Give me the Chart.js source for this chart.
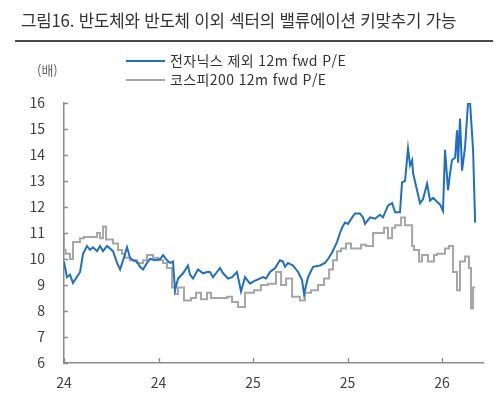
<!DOCTYPE html>
<html lang="ko">
<head>
<meta charset="UTF-8">
<title>그림16</title>
<script src="https://cdn.jsdelivr.net/npm/chart.js"></script>
<style>
  body { margin: 0; background: #fff; font-family: "Noto Sans CJK KR", "Noto Sans", sans-serif; }
  #wrap { position: relative; width: 500px; height: 393px; overflow: hidden; }
  #chart { position: absolute; left: 0; top: 0; }
  .t { position: absolute; white-space: nowrap; color: #333; }
  #title { left: 21px; top: 8px; font-size: 16.8px; letter-spacing: -0.2px; }
  #rule { position: absolute; left: 15px; top: 40px; width: 478px; height: 2px; background: #4a4a4a; }
  #unit { left: 37px; top: 60px; font-size: 13px; color: #666; }
  .lg { position: absolute; left: 126px; width: 39px; height: 2px; }
  .lt { left: 170px; font-size: 14px; letter-spacing: 0.4px; color: #333; }
</style>
</head>
<body>
<div id="wrap">
  <canvas id="chart" width="500" height="393"></canvas>
  <div class="t" id="title">그림16. 반도체와 반도체 이외 섹터의 밸류에이션 키맞추기 가능</div>
  <div id="rule"></div>
  <div class="t" id="unit">(배)</div>
  <div class="lg" style="top:60px;background:#1f6fc4"></div>
  <div class="t lt" style="top:50px">전자닉스 제외 12m fwd P/E</div>
  <div class="lg" style="top:79px;background:#a6a6a6"></div>
  <div class="t lt" style="top:69px">코스피200 12m fwd P/E</div>
</div>
<script>
// x = months since Jan 2024
const xTickMonths = [0, 6, 12, 18, 24];
const xTickLabels = ['24', '24', '25', '25', '26'];

const exSamsungHynixT = [0, 0.19, 0.38, 0.57, 1.02, 1.21, 1.46, 1.65, 1.84, 2.1, 2.29, 2.48, 2.73, 2.92, 3.11,
  3.37, 3.56, 3.75, 4.0, 4.19, 4.38, 4.63, 4.83, 5.02, 5.27, 5.46, 5.78, 6.1, 6.29, 6.54, 6.73, 6.92, 7.05,
  7.24, 7.56, 7.87, 8.0, 8.19, 8.51, 8.83, 9.08, 9.27, 9.46, 9.71, 9.9, 10.1, 10.41, 10.67, 10.98, 11.24,
  11.49, 11.81, 12.06, 12.25, 12.63, 12.83, 13.08, 13.4, 13.71, 13.9, 14.03, 14.22, 14.54, 14.86, 15.11,
  15.24, 15.49, 15.81, 16.25, 16.57, 16.76, 17.02, 17.33, 17.52, 17.65, 17.84, 18.03, 18.29, 18.48, 18.79,
  18.98, 19.11, 19.43, 19.75, 20.06, 20.25, 20.57, 20.83, 21.02, 21.33, 21.46, 21.65, 21.84,
  21.97, 22.1, 22.16, 22.41, 22.6, 22.79, 23.05, 23.24, 23.43, 23.68, 23.87, 24.06, 24.19, 24.38, 24.51,
  24.63, 24.83, 24.95, 25.02, 25.14, 25.27, 25.46, 25.65, 25.78, 25.97, 26.1];
const exSamsungHynixPE = [9.9, 9.3, 9.4, 9.08, 9.5, 10.2, 10.5, 10.35, 10.45, 10.3, 10.5, 10.3, 10.5, 10.4, 10.3,
  9.85, 9.6, 9.95, 10.45, 10.05, 9.95, 9.9, 9.7, 9.6, 9.85, 10.0, 9.95, 10.0, 10.15, 9.95, 9.85, 9.9, 8.8,
  9.25, 9.45, 9.75, 9.4, 9.25, 9.6, 9.45, 9.5, 9.5, 9.3, 9.5, 9.65, 9.45, 9.25, 9.3, 9.5, 8.75,
  9.3, 9.05, 9.15, 9.2, 9.3, 9.25, 9.5, 9.65, 9.95, 9.9, 9.7, 9.85, 9.75, 9.5, 9.2,
  8.65, 9.3, 9.7, 9.75, 9.85, 10.0, 10.25, 10.65, 11.0, 11.2, 11.4, 11.35, 11.6, 11.75, 11.75,
  11.6, 11.35, 11.6, 11.55, 11.7, 11.6, 12.05, 12.15, 11.8, 11.8, 12.95, 13.0, 14.25,
  13.6, 13.8, 13.3, 12.65, 12.15, 12.3, 12.9, 12.25, 12.35, 12.2, 12.1, 11.85, 14.2, 12.65, 13.3,
  13.8, 13.9, 14.95, 13.7, 15.4, 13.4, 14.3, 16.0, 16.0, 14.2, 11.4];

const kospi200T = [0, 0.1, 0.38, 0.57, 1.02, 1.27, 2.1, 2.29, 2.48, 2.67, 3.11, 3.43, 3.68, 3.87, 4.19, 4.63,
  5.02, 5.27, 5.65, 5.97, 6.29, 6.54, 6.86, 7.05, 7.24, 7.62, 8.06, 8.38, 8.7, 9.08, 9.33, 10.35, 10.67,
  11.05, 11.49, 12.06, 12.5, 12.95, 13.46, 13.78, 14.1, 14.48, 14.98, 15.3, 15.68, 16.13, 16.51, 16.83,
  17.08, 17.33, 17.59, 17.9, 18.22, 18.86, 19.17, 19.62, 20.32, 20.57, 20.83, 21.02, 21.4, 21.65, 22.1,
  22.22, 22.54, 22.73, 23.11, 23.49, 23.68, 24.19, 24.44, 24.7, 24.95, 25.14, 25.46, 25.71, 25.84, 25.97, 26.1];
const kospi200PE = [11.0, 10.35, 10.2, 10.0, 10.65, 10.8, 10.85, 11.0, 10.8, 11.25, 10.75, 10.6, 10.35, 10.2, 10.05, 9.95,
  9.85, 9.95, 10.15, 10.05, 9.95, 9.85, 9.65, 8.9, 8.65, 8.9, 8.4, 8.5, 8.7, 8.45, 8.7, 8.5, 8.55,
  8.35, 8.15, 8.7, 8.8, 9.0, 9.05, 9.5, 9.0, 9.25, 8.55, 8.4, 8.7, 8.8, 9.0, 9.25,
  9.6, 9.95, 10.3, 10.4, 10.6, 10.4, 10.55, 10.5, 11.0, 11.2, 10.8, 11.2, 11.3, 11.6, 11.3,
  10.5, 10.35, 9.9, 10.15, 9.9, 10.15, 10.2, 10.4, 10.5, 9.5, 8.8, 9.9, 10.1, 9.65, 8.1, 8.9];

const yTicks = [6, 7, 8, 9, 10, 11, 12, 13, 14, 15, 16];

const toPoints = (xs, ys) => xs.map((x, i) => ({ x: x, y: ys[i] }));

// small tick marks pointing into the plot, like the original
const innerTicks = {
  id: 'innerTicks',
  afterDraw(chart) {
    const { ctx, chartArea, scales } = chart;
    ctx.save();
    ctx.strokeStyle = '#8c8c8c';
    ctx.lineWidth = 1.3;
    ctx.beginPath();
    yTicks.forEach(v => {
      const y = Math.round(scales.y.getPixelForValue(v)) + 0.5;
      ctx.moveTo(chartArea.left, y);
      ctx.lineTo(chartArea.left + 4, y);
    });
    xTickMonths.forEach(m => {
      const x = Math.round(scales.x.getPixelForValue(m)) + 0.5;
      ctx.moveTo(x, chartArea.bottom);
      ctx.lineTo(x, chartArea.bottom - 5);
    });
    ctx.stroke();
    ctx.restore();
  }
};

new Chart(document.getElementById('chart'), {
  type: 'line',
  data: {
    datasets: [
      {
        label: '코스피200 12m fwd P/E',
        data: toPoints(kospi200T, kospi200PE),
        borderColor: '#a6a6a6',
        borderWidth: 2,
        pointRadius: 0,
        stepped: 'after',
        order: 2
      },
      {
        label: '전자닉스 제외 12m fwd P/E',
        data: toPoints(exSamsungHynixT, exSamsungHynixPE),
        borderColor: '#1f6fc4',
        borderWidth: 2,
        pointRadius: 0,
        tension: 0,
        order: 1
      }
    ]
  },
  options: {
    responsive: false,
    animation: false,
    layout: { padding: { top: 103, right: 17, left: 0, bottom: 0 } },
    plugins: { legend: { display: false }, tooltip: { enabled: false } },
    scales: {
      x: {
        type: 'linear',
        min: 0,
        max: 26.6,
        grid: { display: false, drawTicks: false },
        border: { display: true, color: '#8c8c8c', width: 1.5 },
        afterBuildTicks: s => { s.ticks = xTickMonths.map(v => ({ value: v })); },
        afterFit: s => { s.height = 30; },
        ticks: {
          padding: 11,
          color: '#404040',
          font: { family: '"Noto Sans CJK KR", sans-serif', size: 14 },
          maxRotation: 0,
          callback: v => xTickLabels[xTickMonths.indexOf(v)]
        }
      },
      y: {
        min: 6,
        max: 16,
        grid: { display: false, drawTicks: false },
        border: { display: true, color: '#8c8c8c', width: 1.5 },
        afterBuildTicks: s => { s.ticks = yTicks.map(v => ({ value: v })); },
        afterFit: s => { s.width = 64; },
        ticks: {
          padding: 19,
          color: '#404040',
          font: { family: '"Noto Sans CJK KR", sans-serif', size: 14 }
        }
      }
    }
  },
  plugins: [innerTicks]
});
</script>
</body>
</html>
